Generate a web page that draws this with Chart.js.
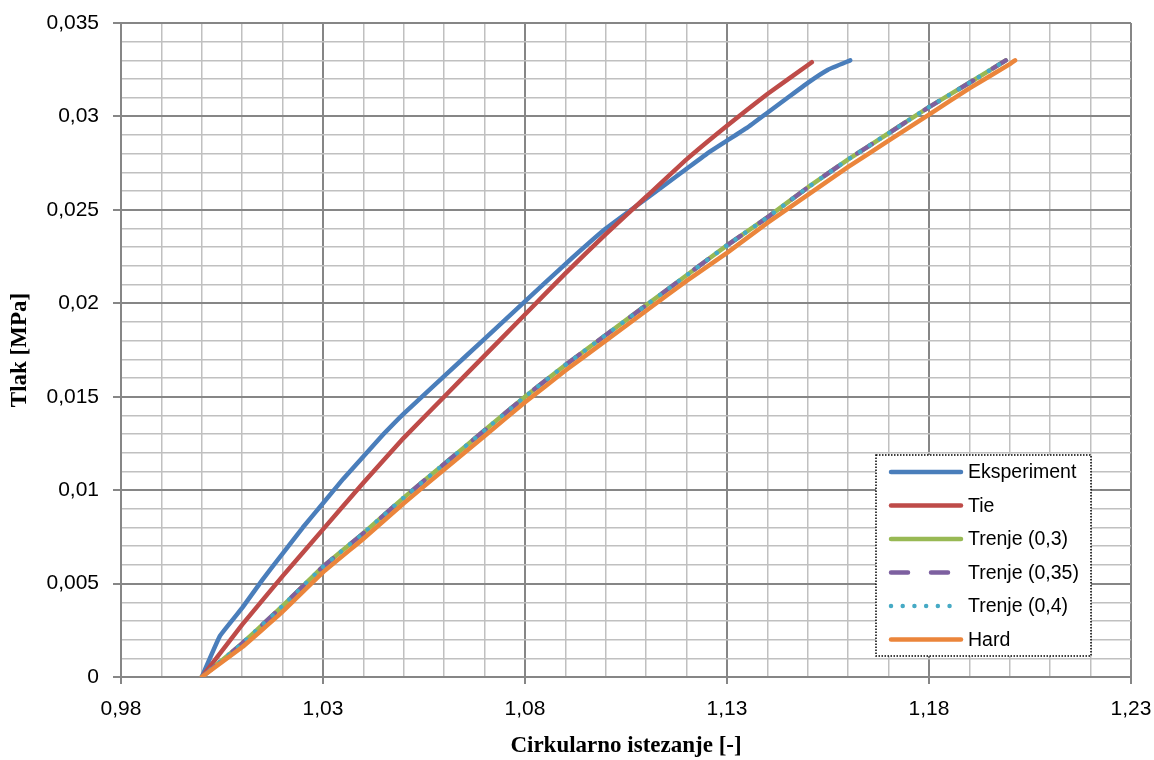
<!DOCTYPE html>
<html>
<head>
<meta charset="utf-8">
<script src="https://cdn.jsdelivr.net/npm/chart.js@4.4.0/dist/chart.umd.min.js"></script>
<style>
  body { margin: 0; background: #fff; }
</style>
</head>
<body>
<canvas id="myChart" width="1154" height="760"></canvas>
<script>
// values
let eksX = [1.000, 1.0045, 1.010, 1.015, 1.020, 1.025, 1.030, 1.035, 1.040, 1.045, 1.050, 1.060, 1.070, 1.080,
            1.090, 1.100, 1.110, 1.120, 1.125, 1.130, 1.135, 1.140, 1.145, 1.150, 1.155, 1.1605];
let eksY = [0, 0.0022, 0.0037, 0.0052, 0.0066, 0.0080, 0.0093, 0.0106, 0.0118, 0.0130, 0.0141, 0.0161, 0.0181, 0.0201,
            0.0221, 0.0240, 0.0256, 0.0272, 0.0280, 0.0287, 0.0294, 0.0302, 0.0310, 0.0318, 0.0325, 0.0330];

let tieX = [1.000, 1.010, 1.020, 1.030, 1.040, 1.050, 1.060, 1.070, 1.080, 1.090, 1.100, 1.110, 1.120, 1.130, 1.140, 1.151];
let tieY = [0, 0.0028, 0.0054, 0.0079, 0.0104, 0.0128, 0.0150, 0.0172, 0.0194, 0.0216, 0.0237, 0.0257, 0.0277, 0.0295, 0.0312, 0.0329];

let trenjeX = [1.000, 1.010, 1.020, 1.030, 1.040, 1.050, 1.060, 1.070, 1.080, 1.090, 1.100,
               1.110, 1.120, 1.130, 1.140, 1.150, 1.160, 1.170, 1.180, 1.190, 1.199];
let trenje03Y = [0, 0.0018, 0.0038, 0.0059, 0.0077, 0.0096, 0.0114, 0.0132, 0.0150, 0.0167, 0.0183,
                 0.0199, 0.0215, 0.0231, 0.0246, 0.0262, 0.0277, 0.0291, 0.0305, 0.0318, 0.0330];
let trenje035Y = [0, 0.0018, 0.0038, 0.0059, 0.0077, 0.0096, 0.0114, 0.0132, 0.0150, 0.0167, 0.0183,
                  0.0199, 0.0215, 0.0231, 0.0246, 0.0262, 0.0277, 0.0291, 0.0305, 0.0318, 0.0330];
let trenje04Y = [0, 0.0018, 0.0038, 0.0059, 0.0077, 0.0096, 0.0114, 0.0132, 0.0150, 0.0167, 0.0183,
                 0.0199, 0.0215, 0.0231, 0.0246, 0.0262, 0.0277, 0.0291, 0.0305, 0.0318, 0.0330];

let hardX = [1.000, 1.010, 1.020, 1.030, 1.040, 1.050, 1.060, 1.070, 1.080, 1.090, 1.100,
             1.110, 1.120, 1.130, 1.140, 1.150, 1.160, 1.170, 1.180, 1.190, 1.200, 1.2013];
let hardY = [0, 0.0016, 0.0035, 0.0056, 0.0074, 0.0093, 0.0111, 0.0129, 0.0147, 0.0164, 0.0180,
             0.0196, 0.0212, 0.0227, 0.0243, 0.0258, 0.0273, 0.0287, 0.0301, 0.0315, 0.0328, 0.0330];

function pts(xs, ys) {
    return xs.map((x, i) => ({x: x, y: ys[i]}));
}

function isMajorX(v) { return Math.round(v * 100) % 5 === 3; }
function isMajorY(v) { return Math.round(v * 1000) % 5 === 0; }

const majorGrid = '#868686', minorGrid = '#c0c0c0';

// legend drawn inside the plot, like the Excel original
const legendBox = {
    id: 'legendBox',
    afterDraw(chart) {
        const c = chart.ctx;
        c.save();
        c.fillStyle = '#fff';
        c.fillRect(876, 455, 215, 201);
        c.setLineDash([1.5, 1.5]);
        c.strokeStyle = '#000';
        c.lineWidth = 1.5;
        c.strokeRect(876, 455, 215, 201);
        chart.data.datasets.forEach((ds, i) => {
            let y = 472 + i * 33.5;
            c.setLineDash(ds.borderDash || []);
            c.lineCap = 'round';
            c.lineWidth = ds.borderWidth;
            c.strokeStyle = ds.borderColor;
            c.beginPath();
            c.moveTo(891, y);
            c.lineTo(ds.borderDash ? 952 : 961, y);
            c.stroke();
            c.setLineDash([]);
            c.fillStyle = '#000';
            c.font = '19.5px "Liberation Sans"';
            c.textBaseline = 'middle';
            c.fillText(ds.label, 968, y + 1);
        });
        c.restore();
    }
};

function line(label, data, color, order, dash) {
    let d = {
        label: label,
        data: data,
        borderColor: color,
        backgroundColor: color,
        borderWidth: 4.5,
        pointRadius: 0,
        tension: 0.1,
        borderCapStyle: 'round',
        borderJoinStyle: 'round',
        order: order
    };
    if (dash) d.borderDash = dash;
    return d;
}

new Chart(document.getElementById('myChart').getContext('2d'), {
    type: 'line',
    data: {
        datasets: [
            line('Eksperiment', pts(eksX, eksY), '#4a7ebb', 6),
            line('Tie', pts(tieX, tieY), '#be4b48', 5),
            line('Trenje (0,3)', pts(trenjeX, trenje03Y), '#98b954', 4),
            line('Trenje (0,35)', pts(trenjeX, trenje035Y), '#7d60a0', 3, [17, 23]),
            line('Trenje (0,4)', pts(trenjeX, trenje04Y), '#46aac5', 2, [0.01, 11.7]),
            line('Hard', pts(hardX, hardY), '#eb853b', 1)
        ]
    },
    options: {
        responsive: false,
        animation: false,
        layout: { padding: { top: 23, right: 23, left: 0, bottom: 0 } },
        plugins: { legend: { display: false }, tooltip: { enabled: false } },
        scales: {
            x: {
                type: 'linear',
                min: 0.98,
                max: 1.23,
                afterFit: s => { s.height = 83; s.paddingLeft = 0; s.paddingRight = 0; },
                ticks: {
                    stepSize: 0.01,
                    autoSkip: false,
                    maxRotation: 0,
                    padding: 13,
                    color: '#000',
                    font: { family: 'Liberation Sans', size: 21 },
                    callback: v => isMajorX(v) ? v.toFixed(2).replace('.', ',') : ''
                },
                grid: {
                    color: ctx => isMajorX(ctx.tick.value) ? majorGrid : minorGrid,
                    lineWidth: ctx => isMajorX(ctx.tick.value) ? 2 : 1.5,
                    tickColor: ctx => isMajorX(ctx.tick.value) ? majorGrid : 'rgba(0,0,0,0)',
                    tickLength: 7
                },
                border: { color: majorGrid, width: 2 },
                title: {
                    display: true,
                    text: 'Cirkularno istezanje [-]',
                    color: '#000',
                    font: { family: 'Liberation Serif', size: 23, weight: 'bold' },
                    padding: { top: 0, bottom: 0 }
                }
            },
            y: {
                min: 0,
                max: 0.035,
                afterFit: s => { s.width = 121; s.paddingTop = 0; s.paddingBottom = 0; },
                ticks: {
                    stepSize: 0.001,
                    autoSkip: false,
                    padding: 14,
                    color: '#000',
                    font: { family: 'Liberation Sans', size: 21 },
                    callback: v => isMajorY(v) ? (v === 0 ? '0' : String(+v.toFixed(3)).replace('.', ',')) : ''
                },
                grid: {
                    color: ctx => isMajorY(ctx.tick.value) ? majorGrid : minorGrid,
                    lineWidth: ctx => isMajorY(ctx.tick.value) ? 2 : 1.5,
                    tickColor: ctx => isMajorY(ctx.tick.value) ? majorGrid : 'rgba(0,0,0,0)',
                    tickLength: 8
                },
                border: { color: majorGrid, width: 2 },
                title: {
                    display: true,
                    text: 'Tlak [MPa]',
                    color: '#000',
                    font: { family: 'Liberation Serif', size: 23, weight: 'bold' },
                    padding: { top: 6, bottom: 0 }
                }
            }
        }
    },
    plugins: [legendBox]
});
</script>
</body>
</html>
